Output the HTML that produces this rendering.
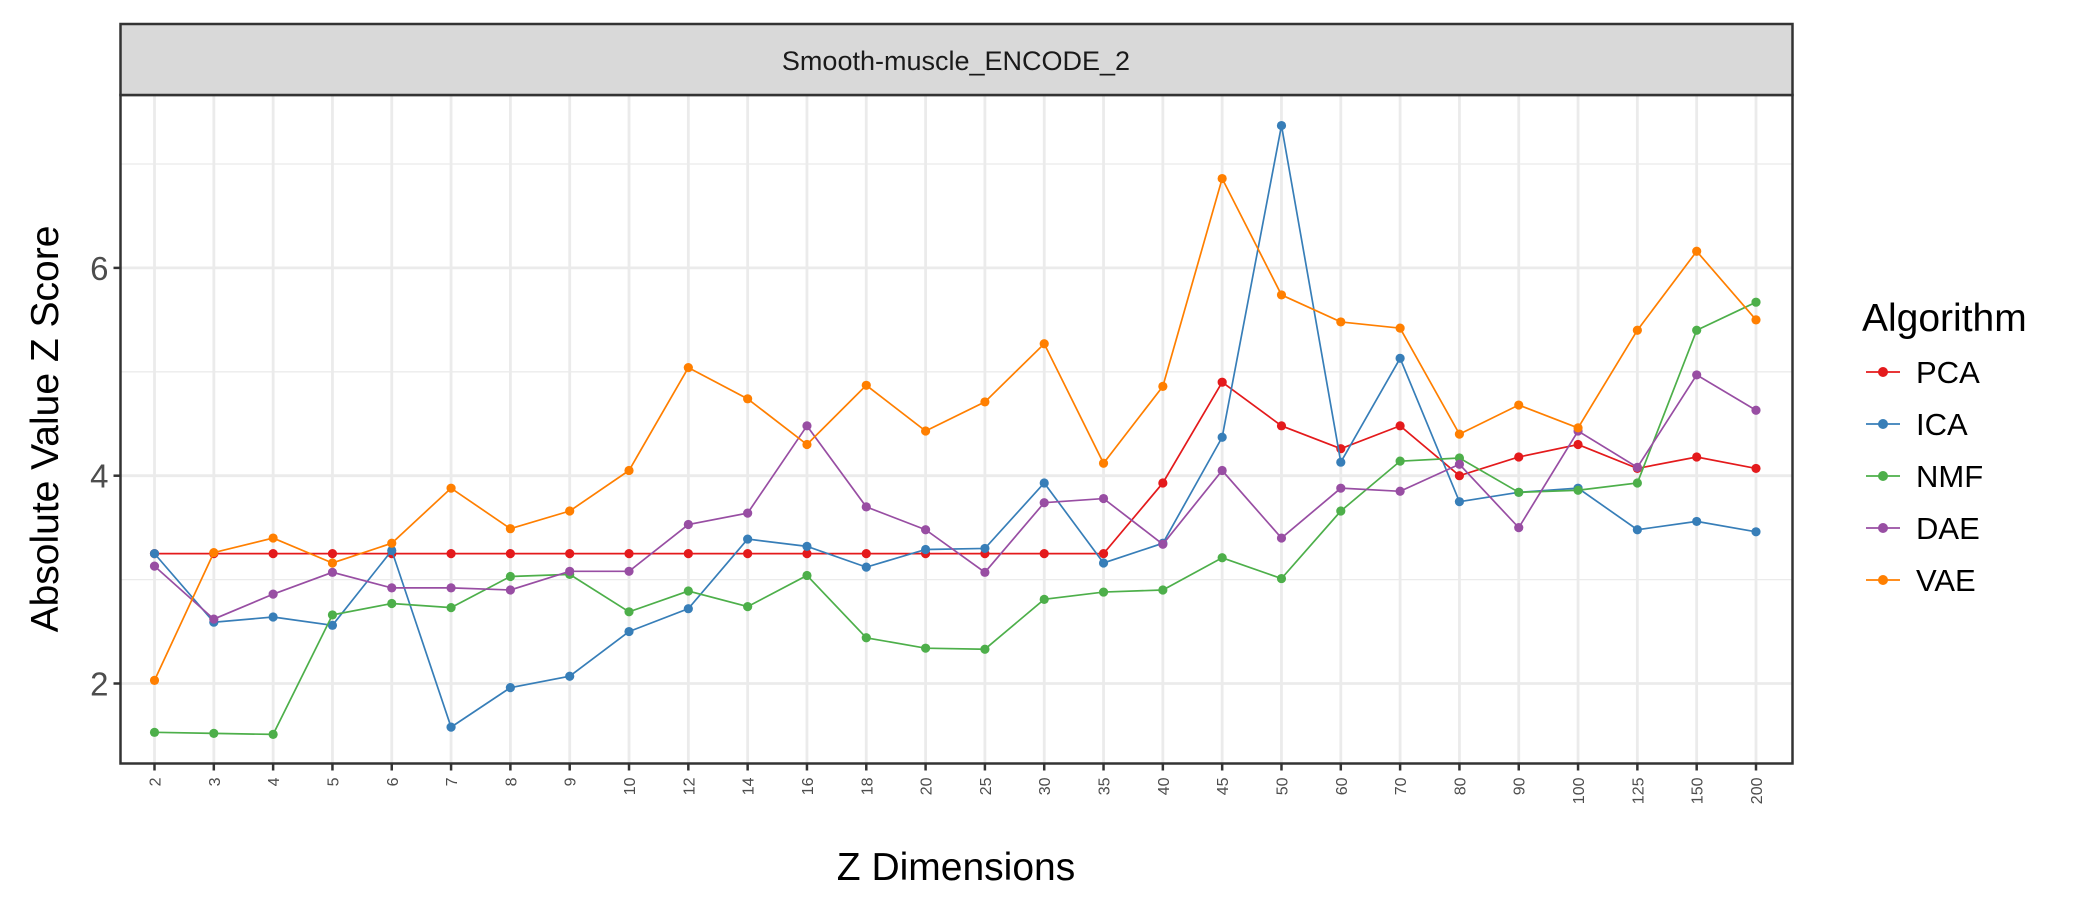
<!DOCTYPE html>
<html><head><meta charset="utf-8"><style>
html,body{margin:0;padding:0;background:#fff;}
svg{display:block;font-family:"Liberation Sans",Arial,sans-serif;}
</style></head><body>
<svg id="chart" width="2100" height="900" viewBox="0 0 2100 900" xmlns="http://www.w3.org/2000/svg">
<rect x="0" y="0" width="2100" height="900" fill="#fff"/>
<g id="grid"></g>
<g id="series"></g>
<g id="axes"></g>
<rect x="120.5" y="24" width="1672" height="71" fill="#d9d9d9" stroke="#333" stroke-width="2.5"/>
<text x="956" y="70" text-anchor="middle" font-size="27" fill="#1a1a1a">Smooth-muscle_ENCODE_2</text>
<text transform="translate(58,429) rotate(-90)" text-anchor="middle" font-size="39" fill="#000">Absolute Value Z Score</text>
<text x="956" y="880" text-anchor="middle" font-size="39" fill="#000">Z Dimensions</text>
<g id="legend">
<text x="1862" y="331" font-size="39" fill="#000">Algorithm</text>
</g>
</svg>
<script>
const categories = ["2","3","4","5","6","7","8","9","10","12","14","16","18","20","25","30","35","40","45","50","60","70","80","90","100","125","150","200"];
const yTicks = [2,4,6];
const yMinor = [3,5,7];
const seriesNames = ["PCA","ICA","NMF","DAE","VAE"];
const pca = [3.25,3.25,3.25,3.25,3.25,3.25,3.25,3.25,3.25,3.25,3.25,3.25,3.25,3.25,3.25,3.25,3.25,3.93,4.9,4.48,4.26,4.48,4.0,4.18,4.3,4.07,4.18,4.07];
const ica = [3.25,2.59,2.64,2.56,3.28,1.58,1.96,2.07,2.5,2.72,3.39,3.32,3.12,3.29,3.3,3.93,3.16,3.35,4.37,7.37,4.13,5.13,3.75,3.84,3.88,3.48,3.56,3.46];
const nmf = [1.53,1.52,1.51,2.66,2.77,2.73,3.03,3.05,2.69,2.89,2.74,3.04,2.44,2.34,2.33,2.81,2.88,2.9,3.21,3.01,3.66,4.14,4.17,3.84,3.86,3.93,5.4,5.67];
const dae = [3.13,2.62,2.86,3.07,2.92,2.92,2.9,3.08,3.08,3.53,3.64,4.48,3.7,3.48,3.07,3.74,3.78,3.34,4.05,3.4,3.88,3.85,4.11,3.5,4.43,4.08,4.97,4.63];
const vae = [2.03,3.26,3.4,3.16,3.35,3.88,3.49,3.66,4.05,5.04,4.74,4.3,4.87,4.43,4.71,5.27,4.12,4.86,6.86,5.74,5.48,5.42,4.4,4.68,4.46,5.4,6.16,5.5];
const colors = ["#E41A1C","#377EB8","#4DAF4A","#984EA3","#FF7F00"];

const NS="http://www.w3.org/2000/svg";
const L=120.5,R=1792.5,T=95,B=763.5;
function xs(i){return 154.5+i*(1756-154.5)/(categories.length-1);}
function ys(v){return 683.5-(v-2)*103.9;}
function mk(tag,attrs,parent){const e=document.createElementNS(NS,tag);for(const k in attrs)e.setAttribute(k,attrs[k]);parent.appendChild(e);return e;}
const grid=document.getElementById('grid'),ser=document.getElementById('series'),axes=document.getElementById('axes'),leg=document.getElementById('legend');
mk('rect',{x:L,y:T,width:R-L,height:B-T,fill:'#fff'},grid);
yMinor.forEach(v=>{const l=mk('line',{x1:L,x2:R,y1:ys(v),y2:ys(v),stroke:'#ebebeb','stroke-width':1.3},grid);

});
yTicks.forEach(v=>{const l=mk('line',{x1:L,x2:R,y1:ys(v),y2:ys(v),stroke:'#ebebeb','stroke-width':2.8},grid);


const t=mk('line',{x1:L-7,x2:L,y1:ys(v),y2:ys(v),stroke:'#333','stroke-width':2.5},axes);


const tx=mk('text',{x:L-12,y:ys(v)+12,'text-anchor':'end','font-size':33,fill:'#4d4d4d'},axes);tx.textContent=v;

});
categories.forEach((c,i)=>{const x=xs(i);
const l=mk('line',{x1:x,x2:x,y1:T,y2:B,stroke:'#ebebeb','stroke-width':2.8},grid);


const t=mk('line',{x1:x,x2:x,y1:B,y2:B+7,stroke:'#333','stroke-width':2.5},axes);


const tx=mk('text',{transform:`translate(${x+6},${B+14}) rotate(-90)`,'text-anchor':'end','font-size':16,fill:'#4d4d4d'},axes);tx.textContent=c;

});
const border=mk('rect',{x:L,y:T,width:R-L,height:B-T,fill:'none',stroke:'#333','stroke-width':2.5},axes);


const all=[pca,ica,nmf,dae,vae];
all.forEach((arr,s)=>{const g=mk('g',{},ser);


const p=mk('polyline',{points:arr.map((v,i)=>xs(i)+','+ys(v)).join(' '),fill:'none',stroke:colors[s],'stroke-width':1.7},g);


arr.forEach((v,i)=>{const c=mk('circle',{cx:xs(i),cy:ys(v),r:4.6,fill:colors[s]},g);

});
const ly=372+s*52;
const e=mk('g',{},leg);


mk('line',{x1:1866,x2:1900,y1:ly,y2:ly,stroke:colors[s],'stroke-width':1.7},e);
mk('circle',{cx:1883,cy:ly,r:5,fill:colors[s]},e);
const t=mk('text',{x:1916,y:ly+11,'font-size':31,fill:'#000'},e);t.textContent=seriesNames[s];
});
</script>
</body></html>
